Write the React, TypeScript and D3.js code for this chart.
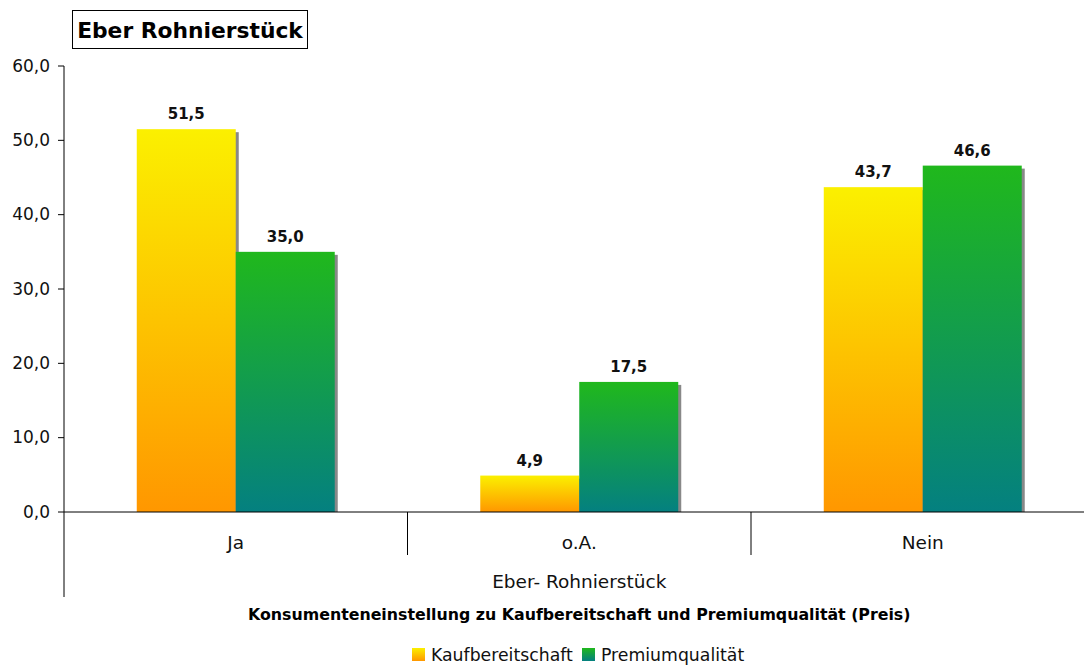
import React from "react";
import * as d3 from "d3";

// values
const categories = ["Ja", "o.A.", "Nein"];
const kaufbereitschaft = [51.5, 4.9, 43.7];
const premiumqualitaet = [35.0, 17.5, 46.6];
const seriesNames = ["Kaufbereitschaft", "Premiumqualität"];
const yTicks = [0, 10, 20, 30, 40, 50, 60];

const W = 1084;
const H = 666;
const font = "Verdana, 'DejaVu Sans', sans-serif";

const fmt = (v: number) => v.toFixed(1).replace(".", ",");

export default function App() {
  const left = 64;
  const top = 66;
  const bottom = 512;

  const y = d3.scaleLinear().domain([0, 60]).range([bottom, top]);
  const x = d3
    .scaleBand<string>()
    .domain(categories)
    .range([left, left + 3 * 343.5]);
  const inner = d3
    .scaleBand<string>()
    .domain(seriesNames)
    .range([0, x.bandwidth()])
    .paddingOuter(0.735)
    .paddingInner(0);

  const series = [
    { name: seriesNames[0], values: kaufbereitschaft, grad: "gradYellow" },
    { name: seriesNames[1], values: premiumqualitaet, grad: "gradGreen" },
  ];

  const centerX = x("o.A.")! + x.bandwidth() / 2;

  return (
    <svg
      width={W}
      height={H}
      style={{ position: "absolute", left: 0, top: 0, background: "#fff" }}
      fontFamily={font}
    >
      <defs>
        <linearGradient id="gradYellow" x1="0" y1="0" x2="0" y2="1">
          <stop offset="0" stopColor="#fbf000" />
          <stop offset="1" stopColor="#ff9700" />
        </linearGradient>
        <linearGradient id="gradGreen" x1="0" y1="0" x2="0" y2="1">
          <stop offset="0" stopColor="#20b81c" />
          <stop offset="1" stopColor="#048080" />
        </linearGradient>
      </defs>

      {/* title box */}
      <rect x={72.5} y={10.5} width={235} height={38} fill="#fff" stroke="#000" strokeWidth={1} />
      <text x={190} y={37.5} textAnchor="middle" fontSize={21.8} fontWeight="bold" fill="#000">
        Eber Rohnierstück
      </text>

      {/* y axis */}
      <line x1={left} x2={left} y1={top} y2={597} stroke="#000" />
      {yTicks.map((t) => (
        <g key={t}>
          <line x1={left - 6} x2={left} y1={y(t)} y2={y(t)} stroke="#000" />
          <text x={50} y={y(t) + 5.5} textAnchor="end" fontSize={17} fill="#111">
            {fmt(t)}
          </text>
        </g>
      ))}

      {/* bars: shadows first, then bars */}
      {series.map((s) =>
        s.values.map((v, i) => {
          const bx = x(categories[i])! + inner(s.name)!;
          return (
            <rect
              key={`sh-${s.name}-${i}`}
              x={bx + 3}
              y={y(v) + 3}
              width={inner.bandwidth()}
              height={bottom - y(v) - 3}
              fill="#888"
            />
          );
        })
      )}
      {series.map((s) =>
        s.values.map((v, i) => {
          const bx = x(categories[i])! + inner(s.name)!;
          return (
            <g key={`b-${s.name}-${i}`}>
              <rect
                x={bx}
                y={y(v)}
                width={inner.bandwidth()}
                height={bottom - y(v)}
                fill={`url(#${s.grad})`}
              />
              <text
                x={bx + inner.bandwidth() / 2}
                y={y(v) - 10}
                textAnchor="middle"
                fontSize={15}
                fontWeight="bold"
                fill="#111"
              >
                {fmt(v)}
              </text>
            </g>
          );
        })
      )}

      {/* x axis */}
      <line x1={left} x2={W} y1={bottom} y2={bottom} stroke="#000" />
      {categories.slice(1).map((c) => (
        <line key={c} x1={x(c)!} x2={x(c)!} y1={bottom} y2={555} stroke="#000" />
      ))}
      {categories.map((c) => (
        <text key={c} x={x(c)! + x.bandwidth() / 2} y={549} textAnchor="middle" fontSize={18.5} fill="#111">
          {c}
        </text>
      ))}
      <text x={centerX} y={588} textAnchor="middle" fontSize={18.5} fill="#111">
        Eber- Rohnierstück
      </text>
      <text x={centerX} y={620} textAnchor="middle" fontSize={15.8} fontWeight="bold" fill="#000">
        Konsumenteneinstellung zu Kaufbereitschaft und Premiumqualität (Preis)
      </text>

      {/* legend */}
      <rect x={412} y={648} width={13} height={13} fill="url(#gradYellow)" />
      <text x={431} y={661} fontSize={17.3} fill="#111">
        {seriesNames[0]}
      </text>
      <rect x={582} y={648} width={13} height={13} fill="url(#gradGreen)" />
      <text x={601} y={661} fontSize={17.3} fill="#111">
        {seriesNames[1]}
      </text>
    </svg>
  );
}
